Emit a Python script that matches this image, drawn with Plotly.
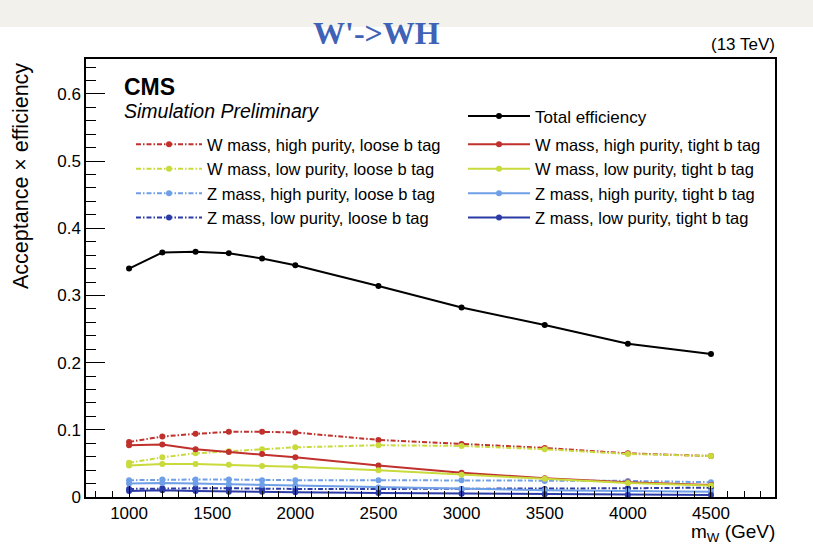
import plotly.graph_objects as go

# ---------------- data ----------------
mass = [1000, 1200, 1400, 1600, 1800, 2000, 2500, 3000, 3500, 4000, 4500]

total_eff = [0.340, 0.364, 0.365, 0.363, 0.355, 0.345, 0.314, 0.282, 0.256, 0.228, 0.213]

w_hp_loose = [0.082, 0.090, 0.094, 0.097, 0.097, 0.096, 0.085, 0.079, 0.073, 0.065, 0.061]
w_lp_loose = [0.051, 0.059, 0.065, 0.068, 0.071, 0.074, 0.077, 0.076, 0.071, 0.064, 0.061]
z_hp_loose = [0.025, 0.026, 0.026, 0.026, 0.025, 0.025, 0.025, 0.025, 0.024, 0.024, 0.022]
z_lp_loose = [0.012, 0.013, 0.013, 0.013, 0.012, 0.012, 0.012, 0.012, 0.012, 0.013, 0.014]

w_hp_tight = [0.077, 0.078, 0.071, 0.067, 0.064, 0.059, 0.047, 0.036, 0.028, 0.022, 0.018]
w_lp_tight = [0.047, 0.049, 0.049, 0.048, 0.046, 0.045, 0.040, 0.033, 0.027, 0.021, 0.017]
z_hp_tight = [0.020, 0.021, 0.020, 0.019, 0.018, 0.017, 0.014, 0.012, 0.010, 0.009, 0.008]
z_lp_tight = [0.009, 0.010, 0.009, 0.008, 0.008, 0.007, 0.006, 0.005, 0.004, 0.003, 0.003]

loose_names = ["W mass, high purity, loose b tag", "W mass, low purity, loose b tag",
               "Z mass, high purity, loose b tag", "Z mass, low purity, loose b tag"]
tight_names = ["W mass, high purity, tight b tag", "W mass, low purity, tight b tag",
               "Z mass, high purity, tight b tag", "Z mass, low purity, tight b tag"]
loose_vals = [w_hp_loose, w_lp_loose, z_hp_loose, z_lp_loose]
tight_vals = [w_hp_tight, w_lp_tight, z_hp_tight, z_lp_tight]
colors = ["#c0302c", "#c8da3c", "#6f9fe6", "#2b3ba6"]

x_ticks = [1000, 1500, 2000, 2500, 3000, 3500, 4000, 4500]

FONT = "Liberation Sans, Arial, Helvetica, sans-serif"

fig = go.Figure()

for name, vals, col in zip(loose_names, loose_vals, colors):
    fig.add_trace(go.Scatter(
        x=mass, y=vals, name=name, mode="lines+markers",
        line=dict(color=col, width=2, dash="5px,2px,1.5px,2px"),
        marker=dict(color=col, size=6, symbol="circle"),
        legend="legend2"))
for name, vals, col in zip(tight_names, tight_vals, colors):
    fig.add_trace(go.Scatter(
        x=mass, y=vals, name=name, mode="lines+markers",
        line=dict(color=col, width=2),
        marker=dict(color=col, size=6, symbol="circle"),
        legend="legend3"))
fig.add_trace(go.Scatter(
    x=mass, y=total_eff, name="Total efficiency", mode="lines+markers",
    line=dict(color="black", width=2),
    marker=dict(color="black", size=6, symbol="circle"),
    legend="legend"))

L, R, T, B = 86, 38, 59, 52
W, H = 813, 549
PW, PH = W - L - R, H - T - B


def px(xp):
    return (xp - L) / PW


def py(yp):
    return 1 - (yp - T) / PH


axis_common = dict(showline=True, linecolor="black", linewidth=1.5, mirror=True,
                   showgrid=False, zeroline=False, ticks="inside", tickcolor="black",
                   tickfont=dict(family=FONT, size=17, color="black"))

fig.update_xaxes(range=[741, 4885], tickmode="array", tickvals=x_ticks,
                 ticktext=[str(v) for v in x_ticks], ticklen=11, tickwidth=1.3,
                 minor=dict(dtick=100, tick0=0, ticks="inside", ticklen=6,
                            tickcolor="black", tickwidth=1.3),
                 **axis_common)
fig.update_yaxes(range=[0, 0.652], dtick=0.1, tick0=0, ticklen=19, tickwidth=1.3,
                 minor=dict(dtick=0.02, tick0=0, ticks="inside", ticklen=10,
                            tickcolor="black", tickwidth=1.3),
                 **axis_common)

legend_common = dict(bgcolor="rgba(0,0,0,0)", borderwidth=0, orientation="v",
                     xanchor="left", yanchor="top",
                     traceorder="normal", itemclick=False, itemdoubleclick=False)

fig.update_layout(
    width=W, height=H,
    margin=dict(l=L, r=R, t=T, b=B),
    paper_bgcolor="white", plot_bgcolor="white",
    showlegend=True,
    legend=dict(x=px(463), y=py(98.5), itemwidth=62,
                font=dict(family=FONT, size=17, color="black"), **legend_common),
    legend2=dict(x=px(131), y=py(127), itemwidth=66,
                 font=dict(family=FONT, size=16.5, color="black"), **legend_common),
    legend3=dict(x=px(463), y=py(127), itemwidth=62,
                 font=dict(family=FONT, size=16.5, color="black"), **legend_common),
)

# top grey band
fig.add_shape(type="rect", xref="paper", yref="paper",
              x0=-0.2, x1=1.2, y0=py(27), y1=py(0),
              fillcolor="#f2f1ec", line=dict(width=0), layer="below")

# texts
fig.add_annotation(text="<b>W'->WH</b>", xref="paper", yref="paper", x=px(376), y=py(33),
                   xanchor="center", yanchor="middle", showarrow=False,
                   font=dict(family="Liberation Serif, Times New Roman, serif", size=32,
                             color="#3f62b6"))
fig.add_annotation(text="(13 TeV)", xref="paper", yref="paper", x=px(777), y=py(45),
                   xanchor="right", yanchor="middle", showarrow=False,
                   font=dict(family=FONT, size=17, color="black"))
fig.add_annotation(text="<b>CMS</b>", xref="paper", yref="paper", x=px(122), y=py(87),
                   xanchor="left", yanchor="middle", showarrow=False,
                   font=dict(family=FONT, size=23, color="black"))
fig.add_annotation(text="<i>Simulation Preliminary</i>", xref="paper", yref="paper",
                   x=px(122), y=py(111), xanchor="left", yanchor="middle", showarrow=False,
                   font=dict(family=FONT, size=19.5, color="black"))
fig.add_annotation(text="m<sub>W</sub> (GeV)", xref="paper", yref="paper",
                   x=px(777), y=py(533), xanchor="right", yanchor="middle", showarrow=False,
                   font=dict(family=FONT, size=19, color="black"))
fig.add_annotation(text="Acceptance × efficiency", xref="paper", yref="paper",
                   x=px(21), y=py(61), xanchor="center", yanchor="top", textangle=-90,
                   showarrow=False, font=dict(family=FONT, size=21.5, color="black"))

fig.write_html("out.html")
